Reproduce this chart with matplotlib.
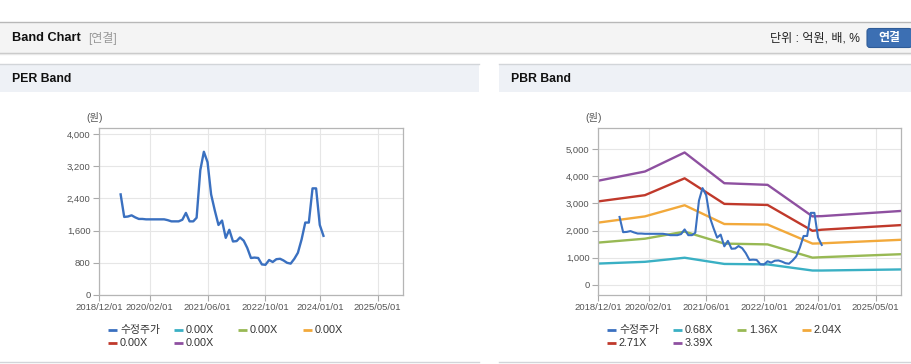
import numpy as np
import pandas as pd
import matplotlib
matplotlib.use("Agg")
import matplotlib.pyplot as plt
import matplotlib.dates as mdates
from matplotlib.patches import Rectangle, FancyBboxPatch
from matplotlib.ticker import FuncFormatter

plt.rcParams['font.family'] = ['Liberation Sans', 'Noto Sans CJK KR']

# adjusted price (monthly)
price_dates = pd.date_range('2019-06-01', '2024-02-01', freq='MS')
price = [2500, 1940, 1950, 1980, 1930, 1890, 1890, 1880, 1880, 1880,
         1880, 1880, 1880, 1860, 1830, 1830, 1830, 1870, 2040, 1830,
         1830, 1920, 3100, 3560, 3300, 2500, 2100, 1740, 1850, 1420,
         1620, 1330, 1340, 1430, 1350, 1170, 920, 930, 920, 760,
         750, 870, 820, 890, 900, 860, 800, 780, 900, 1050,
         1380, 1800, 1800, 2650, 2650, 1740, 1470]

# PBR band knots
band_dates = pd.to_datetime(['2018-12-01', '2020-01-01', '2020-12-01', '2021-11-01',
                             '2022-11-01', '2023-11-15', '2024-02-01', '2025-12-01'])
band_068 = [785, 850, 1000, 772, 755, 530, 530, 570]
band_136 = [1556, 1700, 1960, 1520, 1490, 1004, 1020, 1130]
band_204 = [2290, 2520, 2930, 2240, 2220, 1520, 1530, 1660]
band_271 = [3070, 3300, 3920, 2980, 2940, 1990, 2030, 2200]
band_339 = [3830, 4170, 4870, 3740, 3680, 2520, 2530, 2720]

per_labels = ['수정주가', '0.00X', '0.00X', '0.00X', '0.00X', '0.00X']
pbr_labels = ['수정주가', '0.68X', '1.36X', '2.04X', '2.71X', '3.39X']
colors = ['#3a70c0', '#3ab0c4', '#98b954', '#f2a93b', '#c0392b', '#8e50a0']

xticks = pd.to_datetime(['2018-12-01', '2020-02-01', '2021-06-01',
                         '2022-10-01', '2024-01-01', '2025-05-01'])
W, H = 912, 364

fig = plt.figure(figsize=(W / 100, H / 100), dpi=100)

# background / page elements in pixel coords
bg = fig.add_axes([0, 0, 1, 1], zorder=0)
bg.set_xlim(0, W)
bg.set_ylim(H, 0)
bg.axis('off')
bg.plot([0, W], [22, 22], color='#b8b8b8', lw=1)
bg.add_patch(Rectangle((0, 22.5), W, 30, color='#f4f4f4', lw=0))
bg.plot([0, W], [52.5, 52.5], color='#c4c4c4', lw=1)
bg.plot([0, W], [54, 54], color='#e8e8e8', lw=1)
bg.text(12, 38, 'Band Chart', fontsize=9.2, fontweight='bold', va='center', color='#111111')
bg.text(88, 38.5, '[연결]', fontsize=8.6, va='center', color='#999999')
bg.text(770, 38.5, '단위 : 억원, 배, %', fontsize=8.7, va='center', color='#222222')
bg.add_patch(FancyBboxPatch((867, 28.5), 45, 19, boxstyle='round,pad=0,rounding_size=3',
                            fc='#3c6fb3', ec='#2f5c98', lw=0.8))
bg.text(889, 38.5, '연결', fontsize=8.6, fontweight='bold', color='white', ha='center', va='center')

for x0, x1, title in [(0, 479, 'PER Band'), (499, W, 'PBR Band')]:
    bg.add_patch(Rectangle((x0, 64), x1 - x0, 28, color='#eef1f6', lw=0))
    bg.plot([x0, x1], [64, 64], color='#d2d5d9', lw=1)
    bg.plot([x0, x1], [362, 362], color='#d2d5d9', lw=1)
    bg.text(x0 + 12, 79, title, fontsize=8.8, fontweight='bold', va='center', color='#111111')


def style_axes(ax, yticks, ylim):
    ax.set_xlim(pd.Timestamp('2018-12-01'), pd.Timestamp('2025-12-01'))
    ax.set_ylim(*ylim)
    ax.set_xticks(xticks)
    ax.xaxis.set_major_formatter(mdates.DateFormatter('%Y/%m/%d'))
    ax.set_yticks(yticks)
    ax.yaxis.set_major_formatter(FuncFormatter(lambda v, p: f'{int(v):,}'))
    ax.grid(True, color='#e6e6e6', lw=0.8)
    ax.set_axisbelow(True)
    for s in ax.spines.values():
        s.set_color('#b5b5b5')
        s.set_linewidth(0.9)
    ax.tick_params(length=4, color='#aaaaaa', labelsize=6.8, labelcolor='#555555', pad=2)
    ax.text(-0.015, 1.06, '(원)', transform=ax.transAxes, fontsize=7.4,
            color='#555555', ha='center', va='center')


def draw_legend(left, labels):
    offs = [9, 75, 139, 204]
    for i, (lab, c) in enumerate(zip(labels, colors)):
        x = left + offs[i % 4]
        y = 330 if i < 4 else 343
        bg.plot([x, x + 9], [y, y], color=c, lw=2, solid_capstyle='butt')
        bg.text(x + 12, y, lab, fontsize=7.8, color='#333333', va='center')


# PER band
ax1 = fig.add_axes([99 / W, (H - 295) / H, 304 / W, 167 / H], zorder=1)
ax1.plot(price_dates, price, color=colors[0], lw=1.7)
style_axes(ax1, np.arange(0, 4001, 800), (0, 4150))
draw_legend(99, per_labels)

# PBR band
ax2 = fig.add_axes([598 / W, (H - 295) / H, 303 / W, 167 / H], zorder=1)
bands = [band_068, band_136, band_204, band_271, band_339]
for vals, c in zip(bands, colors[1:]):
    ax2.plot(band_dates, vals, color=c, lw=1.7)
ax2.plot(price_dates, price, color=colors[0], lw=1.5)
style_axes(ax2, np.arange(0, 5001, 1000), (-370, 5770))
draw_legend(598, pbr_labels)

fig.savefig('out.png', dpi=100)
